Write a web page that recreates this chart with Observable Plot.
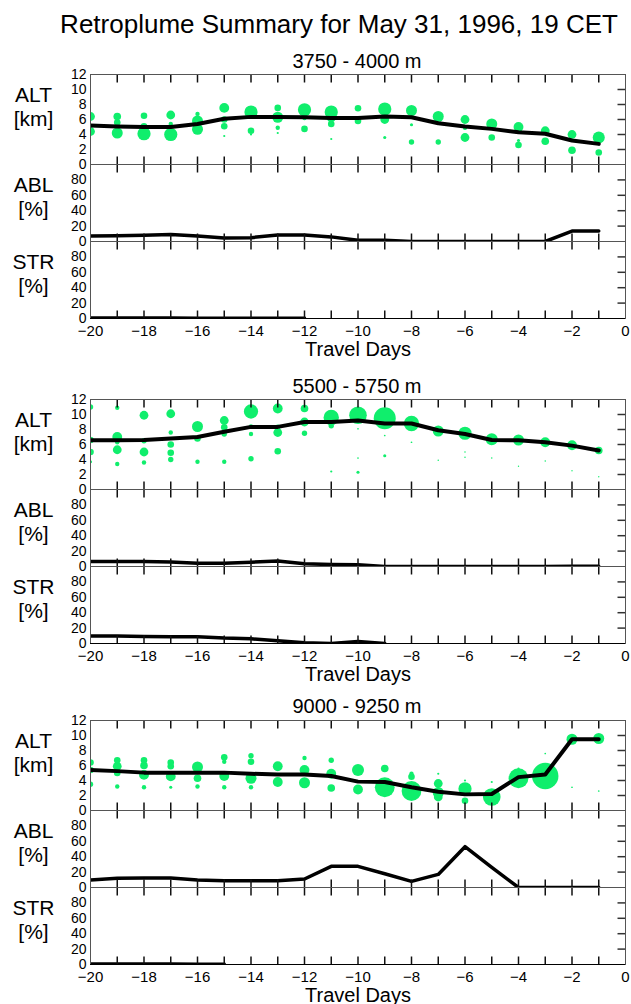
<!DOCTYPE html>
<html><head><meta charset="utf-8">
<script src="https://cdn.jsdelivr.net/npm/d3@7"></script>
<script src="https://cdn.jsdelivr.net/npm/@observablehq/plot@0.6"></script>
<style>
body{margin:0;background:#fff;}
#chart{position:relative;width:631px;height:1004px;font-family:"Liberation Sans",Arial,sans-serif;overflow:hidden;background:#fff;}
.t{position:absolute;text-align:center;line-height:1;white-space:nowrap;color:#000;}
#chart svg{position:absolute;left:0;}
</style></head><body><div id="chart"></div>
<script>
const title = "Retroplume Summary for May 31, 1996, 19 CET";
const groupTitles = ["3750 - 4000 m", "5500 - 5750 m", "9000 - 9250 m"];
const days = [-20,-19,-18,-17,-16,-15,-14,-13,-12,-11,-10,-9,-8,-7,-6,-5,-4,-3,-2,-1];
const innerDays = [-19,-18,-17,-16,-15,-14,-13,-12,-11,-10,-9,-8,-7,-6,-5,-4,-3,-2,-1];
const dayLabels = [-20,-18,-16,-14,-12,-10,-8,-6,-4,-2,0];
const altTicks = [0,2,4,6,8,10,12];
const altInner = [2,4,6,8,10];
const pctTicks = [0,20,40,60,80];
const pctInner = [20,40,60,80];

// mean altitude (km) of retroplume, per travel day
const alt1 = [5.2,5.07,5.0,5.0,5.4,6.1,6.35,6.35,6.3,6.2,6.2,6.4,6.3,5.5,5.07,4.75,4.3,4.1,3.2,2.75];
const alt2 = [6.57,6.57,6.6,6.8,7.0,7.7,8.35,8.35,9.0,9.0,9.2,8.8,8.8,7.9,7.4,6.6,6.57,6.3,5.85,5.2];
const alt3 = [5.4,5.25,5.05,5.05,5.05,5.05,4.9,4.8,4.8,4.6,3.85,3.8,3.1,2.5,2.15,2.2,4.45,4.8,9.5,9.5];
// share in atmospheric boundary layer (%)
const abl1 = [7,7.5,8,9,7,4.5,5,8.5,8.5,6,1.5,1.5,0,0,0,0,0,0,13.5,13.5];
const abl2 = [6.5,6.5,6.5,6,4.3,4.3,5.6,7,3.5,2.6,2.2,0,0,0,0,0,0,0,0.4,0.4];
const abl3 = [9.8,12,12.4,12.4,9.8,8.9,8.9,8.9,11,27.5,27.5,17.8,8,17,53,26,0,0,0,0];
// share in stratosphere (%)
const str1 = [0.8,0.8,0.8,0.8,0.3,0.3,0.3,0.3,0.3,null,null,null,null,null,null,null,null,null,null,null];
const str2 = [9.6,9.6,9.2,8.7,8.7,7,6.1,3.5,0.9,0,2.6,0,null,null,null,null,null,null,null,null];
const str3 = [0.8,0.8,0.8,0.8,0.3,0.3,null,null,null,null,null,null,null,null,null,null,null,null,null,null];

// plume clusters: [day, altitude km, particle share]
const plume1 = [[-20,6.4,16],[-20,4.4,16],
[-19,6.4,12],[-19,5.6,9],[-19,4.2,25],
[-18,6.5,9],[-18,5.1,9],[-18,4.1,36],
[-17,6.6,16],[-17,5.4,4],[-17,4.0,36],
[-16,6.75,4],[-16,5.8,25],[-16,4.7,25],
[-15,7.55,20],[-15,6.0,9],[-15,5.1,9],[-15,3.8,1],
[-14,7.0,36],[-14,4.5,9],[-14,4.0,1],
[-13,7.55,9],[-13,6.3,25],[-13,4.9,4],[-13,4.2,1],
[-12,7.3,36],[-12,6.2,4],[-12,4.75,9],
[-11,7.0,36],[-11,6.2,16],[-11,5.4,9],[-11,3.4,1],
[-10,7.5,9],[-10,5.8,9],
[-9,7.4,36],[-9,6.0,16],[-9,3.6,2],
[-8,7.2,25],[-8,5.3,2],[-8,3.0,6],
[-7,6.4,25],[-7,3.0,6],
[-6,6.0,16],[-6,4.9,4],[-6,3.6,16],
[-5,5.4,25],[-5,3.6,9],
[-4,5.0,20],[-4,3.2,2],[-4,2.6,9],
[-3,4.5,16],[-3,3.1,12],
[-2,4.0,16],[-2,1.9,12],
[-1,3.6,30],[-1,1.6,9]];
const plume2 = [[-20,11.0,6],[-20,6.6,9],[-20,5.0,9],[-20,3.7,2],
[-19,10.9,4],[-19,7.0,20],[-19,6.3,4],[-19,5.3,16],[-19,3.4,4],
[-18,9.9,16],[-18,6.5,6],[-18,5.0,16],[-18,3.6,4],
[-17,10.1,16],[-17,7.6,4],[-17,6.0,9],[-17,4.9,9],[-17,4.0,6],
[-16,8.4,25],[-16,6.8,9],[-16,3.7,4],
[-15,9.2,16],[-15,8.3,9],[-15,7.4,6],[-15,3.7,4],
[-14,10.4,42],[-14,8.4,4],[-14,7.4,4],[-14,4.1,6],
[-13,10.8,20],[-13,8.3,6],[-13,7.6,16],[-13,5.1,9],
[-12,10.8,12],[-12,9.0,16],[-12,7.5,6],
[-11,9.6,49],[-11,8.5,6],[-11,2.4,1],
[-10,9.9,64],[-10,8.1,0.6],[-10,4.2,0.6],[-10,2.3,2],
[-9,9.5,100],[-9,7.2,0.6],[-9,4.5,2],
[-8,8.8,49],[-8,6.3,0.6],
[-7,7.8,25],[-7,3.9,0.5],
[-6,7.5,36],[-6,5.0,0.5],[-6,4.3,0.5],
[-5,6.7,30],[-5,4.2,0.5],
[-4,6.6,25],[-4,3.1,0.4],
[-3,6.3,20],[-3,3.8,0.5],
[-2,5.9,20],[-2,2.5,0.4],
[-1,5.2,12],[-1,1.7,0.4]];
const plume3 = [[-20,6.4,9],[-20,5.4,9],[-20,3.5,6],
[-19,6.7,9],[-19,5.9,16],[-19,5.0,9],[-19,3.2,4],
[-18,6.7,9],[-18,6.0,12],[-18,4.75,20],[-18,3.1,4],
[-17,6.4,9],[-17,5.9,9],[-17,4.55,20],[-17,3.1,2],
[-16,5.8,25],[-16,4.3,12],[-16,3.2,4],
[-15,7.1,9],[-15,6.5,4],[-15,4.6,20],[-15,3.1,4],
[-14,7.3,6],[-14,6.5,9],[-14,4.3,25],[-14,3.1,4],
[-13,5.9,20],[-13,3.8,20],
[-12,7.0,4],[-12,5.4,20],[-12,3.7,25],
[-11,6.7,6],[-11,4.9,20],[-11,3.0,12],
[-10,5.4,30],[-10,2.8,20],
[-9,5.6,12],[-9,3.1,81],
[-8,4.9,4],[-8,4.5,9],[-8,2.6,81],
[-7,4.9,1],[-7,3.6,16],[-7,2.4,25],[-7,1.8,16],
[-6,4.0,1],[-6,2.9,36],[-6,1.3,9],
[-5,3.8,1],[-5,1.8,64],
[-4,5.6,1],[-4,4.3,81],
[-3,7.6,0.6],[-3,4.6,144],
[-2,9.5,25],[-2,3.1,0.6],
[-1,9.6,25],[-1,2.6,0.6]];

const GREEN = "#10ee6c";
const W = 631, ML = 90, MR = 6, TICK = 8;
const chart = document.getElementById("chart");

function addText(txt, left, top, width, size) {
  const d = document.createElement("div");
  d.className = "t";
  d.textContent = txt;
  d.style.left = left + "px"; d.style.top = top + "px";
  d.style.width = width + "px"; d.style.fontSize = size + "px";
  chart.appendChild(d);
}

function panel({top, h, kind, values, dots, label, bottom}) {
  const mt = 14, mb = bottom ? 48 : 14;
  const isAlt = kind === "alt";
  const yDomain = isAlt ? [0, 12] : [0, 100];
  const yTop = yDomain[1];
  const tickLenY = TICK * yTop / h;            // tick length converted to y units
  const tickLenX = TICK * 20 / (W - ML - MR);   // tick length converted to x units
  const topTicks = innerDays.map(d => ({d, a: yTop, b: yTop - tickLenY}));
  const botTicks = innerDays.map(d => ({d, a: 0, b: tickLenY}));
  const rightTicks = (isAlt ? altInner : pctInner).map(v => ({v, a: 0, b: -tickLenX}));
  const marks = [];
  if (dots) marks.push(Plot.dot(dots, {x: d => d[0], y: d => d[1], r: d => d[2], fill: GREEN, clip: true}));
  marks.push(Plot.line(days.map((d, i) => ({day: d, v: values[i]})), {x: "day", y: "v", stroke: "#000", strokeWidth: isAlt ? 4 : 3.5, clip: true}));
  // inward tick marks
  marks.push(Plot.link(topTicks, {x1: "d", x2: "d", y1: "a", y2: "b", stroke: "#111", strokeWidth: 1.5}));
  marks.push(Plot.link(botTicks, {x1: "d", x2: "d", y1: "a", y2: "b", stroke: "#111", strokeWidth: 1.5}));
  marks.push(Plot.link(rightTicks, {x1: "a", x2: "b", y1: "v", y2: "v", stroke: "#333", strokeWidth: 1.5}));
  marks.push(Plot.frame({stroke: "#555"}));
  marks.push(Plot.ruleY([0], {stroke: "#000"}));
  marks.push(Plot.axisY({anchor: "left", ticks: isAlt ? altTicks : pctTicks, tickSize: 0, tickPadding: 4, fontSize: 14, label: null}));
  marks.push(Plot.text([label], {frameAnchor: "top-left", dx: -57, dy: 10, textAnchor: "middle", lineAnchor: "top", lineHeight: 1.15, fontSize: 21}));
  if (bottom) {
    marks.push(Plot.axisX({anchor: "bottom", ticks: dayLabels, tickSize: 0, tickPadding: 7, fontSize: 15, label: null}));
    marks.push(Plot.text(["Travel Days"], {frameAnchor: "bottom", dy: 23, lineAnchor: "top", fontSize: 20}));
  } else {
    marks.push(Plot.axisX({ticks: [], label: null}));
  }
  const svg = Plot.plot({
    width: W, height: h + mt + mb,
    marginLeft: ML, marginRight: MR, marginTop: mt, marginBottom: mb,
    x: {domain: [-20, 0]},
    y: {domain: yDomain},
    r: {type: "sqrt", domain: [0, 100], range: [0, 11]},
    style: {fontFamily: "'Liberation Sans', Arial, sans-serif", background: "none", overflow: "visible", color: "#000"},
    marks
  });
  svg.style.top = (top - mt) + "px";
  chart.appendChild(svg);
}

addText(title, 39, 11, 600, 26);

const groups = [
  {top: 74, sub: 51, alt: alt1, abl: abl1, str: str1, dots: plume1},
  {top: 399, sub: 376, alt: alt2, abl: abl2, str: str2, dots: plume2},
  {top: 720, sub: 696, alt: alt3, abl: abl3, str: str3, dots: plume3}
];
groups.forEach((g, i) => {
  addText(groupTitles[i], 157, g.sub, 400, 20);
  panel({top: g.top, h: 90, kind: "alt", values: g.alt, dots: g.dots, label: "ALT\n[km]"});
  panel({top: g.top + 90, h: 77, kind: "pct", values: g.abl, label: "ABL\n[%]"});
  panel({top: g.top + 167, h: 77, kind: "pct", values: g.str, label: "STR\n[%]", bottom: true});
});
</script></body></html>
